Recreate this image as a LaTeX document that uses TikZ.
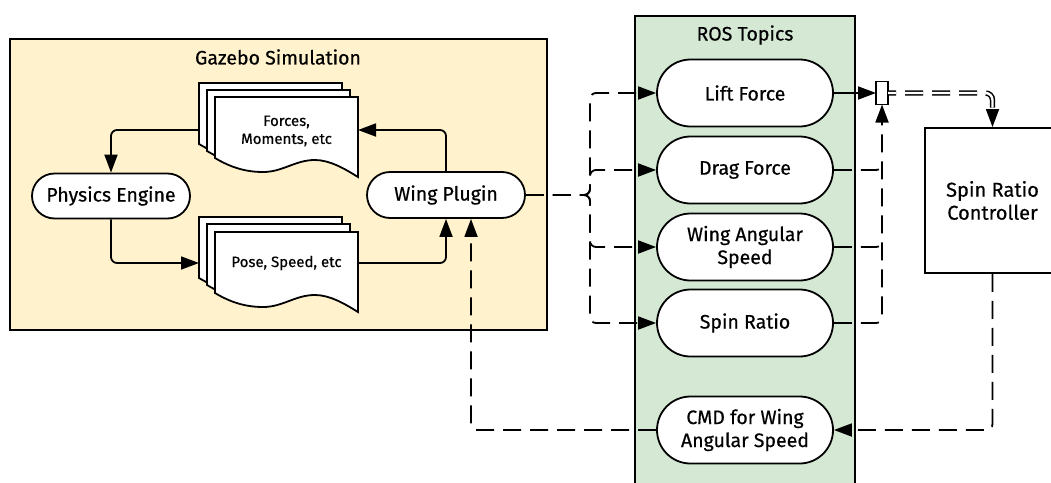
\documentclass[tikz,border=0pt]{standalone}
\usepackage{fontspec}
\setmainfont{Fira Sans}[FakeBold=0.5]
\usetikzlibrary{arrows.meta,calc,shapes.misc}
\definecolor{gzfill}{HTML}{FFF2CC}
\definecolor{rosfill}{HTML}{D5E8D4}
\tikzset{
  lw/.style={line width=1.8pt},
  pill/.style={rounded rectangle, draw, lw, fill=white, inner sep=0pt, align=center,
    font=\fontsize{19.5}{23}\selectfont},
  conn/.style={lw, rounded corners=6pt},
  arr/.style={-{Triangle[length=18pt,width=13pt]}},
  dsh/.style={dash pattern=on 18pt off 9pt},
  sheet/.style={lw, fill=white},
  anchorbox/.style={inner sep=0pt, outer sep=0pt},
  title/.style={font=\fontsize{19.5}{22}\selectfont},
  doctext/.style={font=\fontsize{15}{18}\selectfont, align=center},
}
\newcommand\mysheet[2]{%
  \begin{scope}[shift={(#1,#2)}]
    \draw[sheet] (0,0) -- (143,0) -- (143,80) .. controls (130,72) and (115,63) .. (100,63)
      .. controls (80,63) and (68,75) .. (48,75) .. controls (30,75) and (15,70) .. (0,61) -- cycle;
  \end{scope}}
\begin{document}
\begin{tikzpicture}[x=1pt,y=-1pt]
\useasboundingbox (0,0) rectangle (1051,482);
% containers
\node[draw, lw, fill=gzfill, anchor=north west, minimum width=537pt, minimum height=291pt, anchorbox] (gz) at (10,39) {};
\node[title] (gztitle) at (278,57) {Gazebo Simulation};
\node[draw, lw, fill=rosfill, anchor=north west, minimum width=220pt, minimum height=480pt, anchorbox] (ros) at (635,16) {};
\node[title] (rostitle) at (745,35) {ROS Topics};
% document stacks
\mysheet{199}{83}\mysheet{207}{90}\mysheet{215}{97}
\node[anchorbox, minimum width=159pt, minimum height=94pt] (forces) at (278.5,130) {};
\node[doctext] (forcestxt) at (286.5,131) {Forces,\\Moments, etc};
\mysheet{199}{217}\mysheet{207}{224}\mysheet{215}{232}
\node[anchorbox, minimum width=159pt, minimum height=92pt] (pose) at (278.5,263) {};
\node[doctext] (posetxt) at (286.5,263) {Pose, Speed, etc};
% pills
\node[pill, minimum width=158pt, minimum height=45pt] (phys) at (111,196) {Physics Engine};
\node[pill, minimum width=158pt, minimum height=46pt] (wing) at (446,195) {Wing Plugin};
\node[pill, minimum width=176pt, minimum height=67pt] (lift) at (745,93) {Lift Force};
\node[pill, minimum width=176pt, minimum height=67pt] (drag) at (745,170) {Drag Force};
\node[pill, minimum width=176pt, minimum height=67pt] (wspeed) at (745,247) {Wing Angular\\Speed};
\node[pill, minimum width=176pt, minimum height=67pt] (spin) at (745,323) {Spin Ratio};
\node[pill, minimum width=176pt, minimum height=67pt] (cmd) at (745,430) {CMD for Wing\\Angular Speed};
\node[draw, lw, fill=white, minimum width=12pt, minimum height=23pt, anchorbox] (junc) at (882,93) {};
\node[draw, lw, fill=white, minimum width=135pt, minimum height=145pt, align=center,
  font=\fontsize{20}{23}\selectfont] (ctrl) at (992.5,200.5) {Spin Ratio\\Controller};
% solid connectors
\draw[conn, arr] (forces.west) -| (phys.north);
\draw[conn, arr] (wing.north) |- (forces.east);
\draw[conn, arr] (phys.south) |- (pose.west);
\draw[conn, arr] (pose.east) -| (wing.south);
\draw[conn, arr] (lift.east) -- (junc.west);
% dashed fan-out
\coordinate (split) at (590,195);
\draw[conn, dsh, arr] (wing.east) -- (split) |- (lift.west);
\draw[conn, dsh, arr] (wing.east) -- (split) |- (drag.west);
\draw[conn, dsh, arr] (wing.east) -- (split) |- (wspeed.west);
\draw[conn, dsh, arr] (wing.east) -- (split) |- (spin.west);
% dashed fan-in
\draw[conn, dsh, arr] (spin.east) -| (junc.south);
\draw[conn, dsh] (drag.east) -| ($(drag.east -| junc.south)+(0,-7)$);
\draw[conn, dsh] (wspeed.east) -| ($(wspeed.east -| junc.south)+(0,-7)$);
% double dashed to controller
\draw[line width=1.5pt, double=white, double distance=2.4pt, dash pattern=on 18pt off 9pt,
  dash phase=10pt, rounded corners=7pt]
  (junc.east) -| ($(ctrl.north)+(0,-14)$);
\draw[lw, arr] ($(ctrl.north)+(0,-16)$) -- (ctrl.north);
% command back
\draw[conn, dsh, arr] (ctrl.south) |- (cmd.east);
\draw[conn, dsh, arr] (cmd.west) -| ($(wing.south)+(25,0)$);
\end{tikzpicture}
\end{document}
